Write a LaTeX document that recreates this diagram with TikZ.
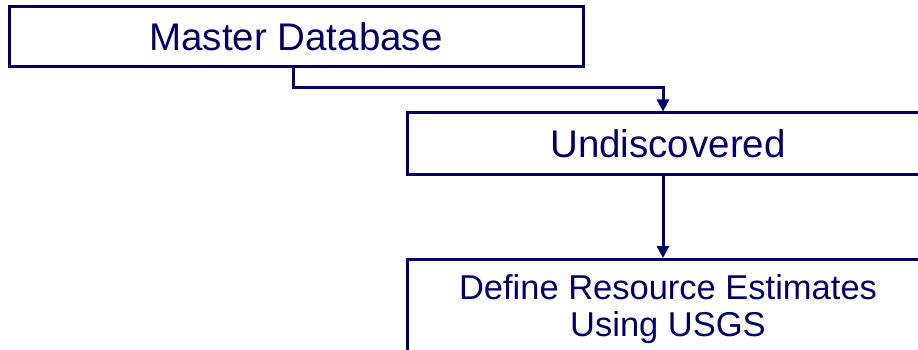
\documentclass[tikz,border=0pt]{standalone}
\usepackage{fontspec}
\setmainfont{Liberation Sans}
\usetikzlibrary{arrows.meta}
\definecolor{navy}{RGB}{0,0,102}
\begin{document}
\begin{tikzpicture}[x=1pt,y=-1pt,
  box/.style={draw=navy, line width=3pt, fill=white, text=navy,
    inner sep=0pt, align=center},
  big/.style={font=\fontsize{38.5}{44}\selectfont},
  small/.style={font=\fontsize{34.5}{37}\selectfont},
  conn/.style={draw=navy, line width=3pt,
    -{Triangle[length=12pt,width=12pt]}}]
\useasboundingbox (0,0) rectangle (918,350);
\clip (0,0) rectangle (918,350);

% process boxes
\node[box, big, minimum width=574pt, minimum height=60pt] (master) at (296,37) {Master Database};
\node[box, big, minimum width=522pt, minimum height=61pt] (undisc) at (668,143.5) {Undiscovered};
\node[box, small, anchor=north, minimum width=522pt, inner ysep=15pt] (define) at (668,258)
  {Define Resource Estimates\\Using USGS};

% elbow connector from the master database down to the undiscovered box
\coordinate (elbowA) at (293,88);
\coordinate (elbowB) at (663,88);
\draw[conn] (master.south -| elbowA) -- (elbowA) -- (elbowB) -- (undisc.north -| elbowB);

% straight connector to the resource estimates box
\draw[conn] (undisc.south -| elbowB) -- (define.north -| elbowB);
\end{tikzpicture}
\end{document}
